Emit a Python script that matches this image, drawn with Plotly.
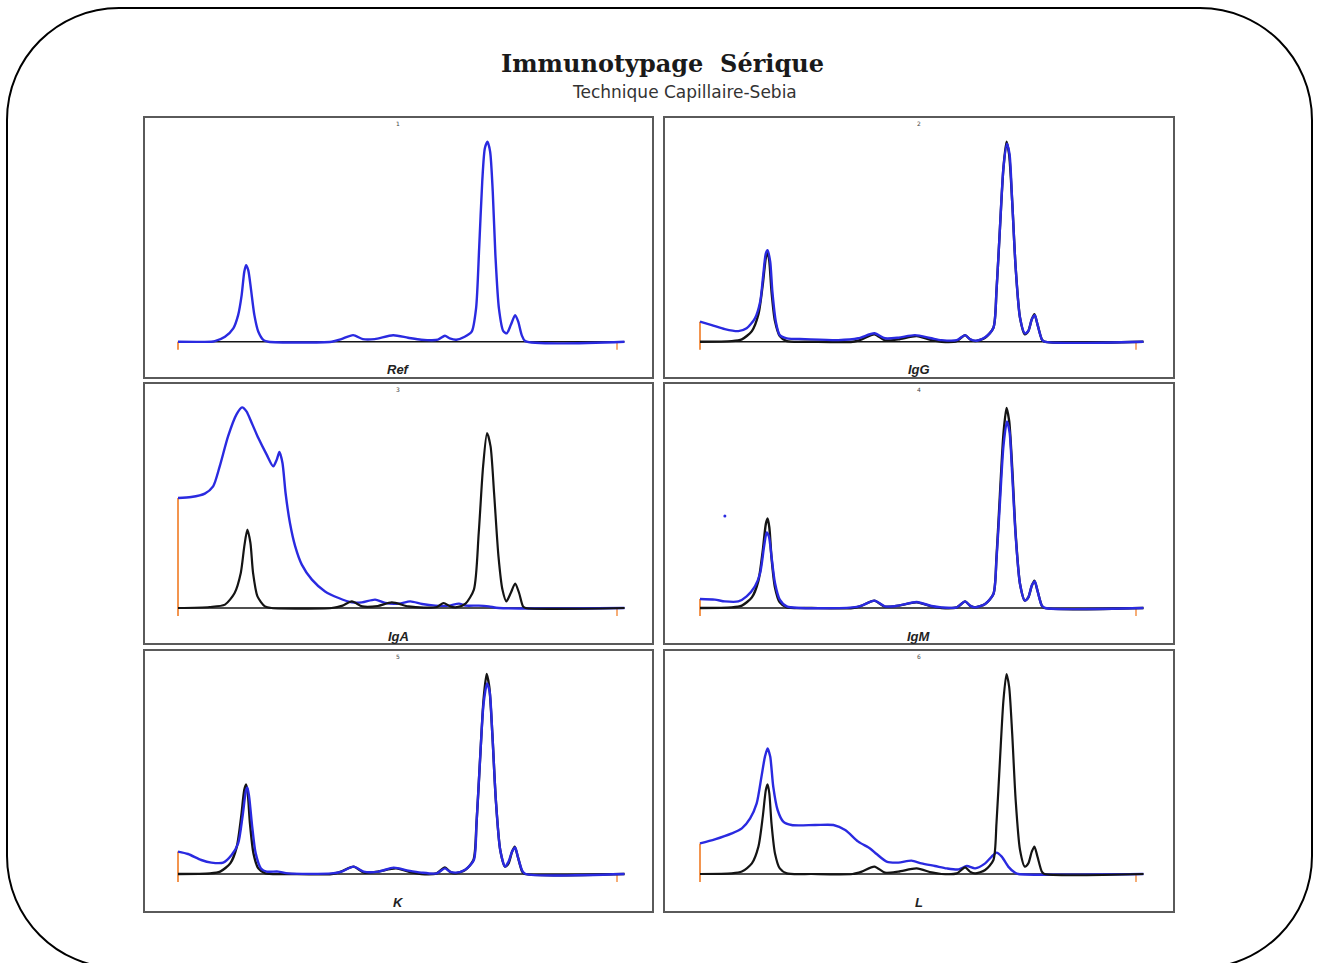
import plotly.graph_objects as go

W, H = 1319, 963

# ---------------- data (x: 0 = left marker, 100 = right marker; y: 0 = baseline) -------------
panel_names = ["Ref", "IgG", "IgA", "IgM", "K", "L"]
panel_numbers = ["1", "2", "3", "4", "5", "6"]

# Ref panel (blue profile)
ref_x = [0, 7.6, 8.4, 10.7, 12.6, 13.7, 14.5, 15.1, 15.5, 16.0, 16.6, 17.4, 18.3, 19.5, 20.6,
         35.0, 37.2, 39.9, 42.1, 44.8, 49.0, 52.4, 55.4, 59.2, 60.8, 61.9, 63.4, 65.3, 66.9,
         67.9, 68.6, 69.3, 69.9, 70.5, 71.1, 71.7, 72.3, 73.1, 74.1, 74.9, 75.8, 76.8, 77.5,
         78.3, 79.1, 101.7]
ref_y = [0, 0, 0.3, 2.5, 6.7, 13.3, 23.3, 35.0, 38.3, 35.8, 26.7, 13.3, 5.0, 0.8, 0,
         0, 1.3, 3.3, 1.3, 1.3, 3.2, 2.0, 1.0, 1.0, 3.0, 1.7, 1.0, 2.5, 5.0,
         16.7, 46.7, 80.0, 96.7, 100.0, 95.0, 75.0, 43.3, 16.7, 5.3, 4.2, 8.3, 13.3, 10.0,
         3.3, 0.3, 0]

# black reference profile used in IgG, IgM, K, L panels
black_x = [0, 7.3, 9.6, 11.9, 13.4, 14.4, 15.1, 15.5, 15.9, 16.4, 17.2, 18.3, 19.9, 25.6,
           35.0, 37.1, 40.0, 42.4, 45.5, 49.7, 53.1, 55.4, 58.9, 60.8, 61.9, 63.1, 65.4,
           67.3, 68.0, 68.8, 69.6, 70.3, 70.9, 71.6, 72.4, 73.4, 74.5, 75.3, 76.1, 76.7,
           77.4, 78.4, 79.0, 101.7]
black_y = [0, 0.3, 1.2, 5.3, 13.7, 28.7, 42.0, 44.8, 40.3, 25.3, 10.3, 2.8, 0.3, 0,
           0, 1.2, 3.7, 0.7, 1.2, 2.8, 0.8, 0, 0.3, 3.3, 1.2, 0.3, 2.0,
           7.0, 25.3, 57.0, 87.0, 100.0, 93.7, 70.3, 37.0, 12.0, 3.7, 5.3, 11.2, 13.7,
           8.7, 1.2, 0, 0]

# IgA panel
iga_black_x = [0, 7.2, 10.7, 12.9, 14.3, 15.1, 15.8, 16.5, 17.1, 18.1, 19.8, 21.3,
               35.0, 37.5, 39.6, 42.0, 45.5, 48.7, 52.5, 56.0, 59.0, 60.5, 62.0, 63.5, 65.5,
               67.4, 68.5, 69.5, 70.4, 71.2, 72.0, 73.0, 73.9, 74.8, 75.8, 76.8, 77.7,
               78.6, 79.2, 101.7]
iga_black_y = [0, 0.5, 1.7, 7.5, 17.5, 30.8, 39.2, 32.5, 17.5, 5.8, 0.8, 0,
               0, 1.2, 3.3, 0.8, 1.0, 2.8, 0.8, 0.2, 0.5, 2.5, 0.8, 0.4, 2.2,
               9.2, 37.5, 70.8, 87.5, 80.8, 57.5, 25.8, 9.2, 3.3, 7.5, 12.2, 7.5,
               0.8, 0, 0]
iga_blue_x = [0, 3.0, 6.1, 8.0, 9.5, 11.4, 13.3, 14.6, 15.6, 16.8, 18.3, 20.2, 21.7, 22.5,
              23.1, 23.8, 24.5, 25.5, 26.7, 28.2, 30.5, 33.5, 36.6, 39.6, 41.9, 44.9, 47.2,
              50.3, 52.9, 55.6, 58.6, 61.7, 64.0, 65.5, 68.5, 70.8, 73.1, 101.7]
iga_blue_y = [55.0, 55.5, 57.2, 60.8, 70.8, 85.8, 96.7, 100.3, 98.3, 92.5, 85.0, 76.7, 70.8, 74.2,
              78.0, 72.5, 57.5, 42.5, 30.8, 21.7, 14.2, 8.3, 5.0, 2.8, 2.8, 4.2, 2.5,
              2.2, 3.3, 2.0, 1.2, 1.2, 2.2, 1.2, 1.2, 0.8, 0, 0]

# IgG panel (blue)
igg_blue_x = [0, 2.7, 5.7, 8.8, 10.7, 12.6, 13.8, 14.5, 15.1, 15.5, 16.1, 16.6, 17.4, 18.3,
              19.9, 24.1, 31.7, 36.3, 40.0, 42.4, 45.5, 49.3, 53.1, 55.4, 58.9, 60.8, 61.9,
              63.5, 65.4, 67.3, 68.0, 68.8, 69.6, 70.4, 71.0, 71.6, 72.4, 73.4, 74.5, 75.3,
              76.1, 76.8, 77.4, 78.4, 79.0, 101.7]
igg_blue_y = [10.0, 8.3, 6.3, 5.3, 6.7, 11.7, 20.0, 33.3, 44.2, 45.8, 40.0, 25.0, 10.0, 3.3,
              1.7, 1.3, 0.8, 1.7, 4.2, 1.7, 2.0, 3.3, 1.7, 0.8, 0.8, 3.3, 1.3,
              0.5, 2.2, 7.0, 25.3, 57.0, 87.0, 99.0, 93.7, 70.3, 37.0, 12.0, 4.2, 5.3,
              11.2, 13.3, 8.7, 1.2, 0, 0]

# IgM panel (blue)
igm_blue_x = [0, 3.4, 5.7, 8.8, 10.7, 12.6, 13.8, 14.7, 15.3, 15.8, 16.4, 17.2, 18.3, 19.9,
              35.0, 37.1, 40.0, 42.4, 45.5, 49.7, 53.1, 55.4, 58.9, 60.8, 61.9, 63.1, 65.4,
              67.3, 68.0, 68.8, 69.6, 70.4, 71.0, 71.6, 72.4, 73.4, 74.5, 75.3, 76.1, 76.8,
              77.4, 78.4, 79.2, 101.7]
igm_blue_y = [4.5, 4.2, 3.3, 3.3, 5.8, 10.8, 17.5, 30.8, 37.8, 35.8, 25.8, 12.5, 4.2, 0.8,
              0.3, 1.2, 3.7, 0.8, 1.2, 3.0, 1.0, 0.3, 0.3, 3.3, 1.2, 0.3, 2.0,
              7.0, 24.0, 53.0, 81.0, 93.3, 88.0, 67.0, 36.0, 12.0, 3.7, 5.3, 11.2, 13.3,
              8.7, 1.2, 0, 0]
igm_dot_x = [5.7]
igm_dot_y = [46.0]

# K panel (blue)
k_blue_x = [0, 2.3, 5.3, 7.6, 10.3, 12.2, 13.7, 14.7, 15.5, 15.8, 16.2, 16.9, 17.7, 18.9,
            20.2, 22.8, 25.1, 35.0, 37.3, 40.0, 42.3, 45.7, 49.1, 52.5, 55.4, 58.9, 60.8,
            61.9, 63.4, 65.5, 67.4, 68.0, 68.8, 69.6, 70.4, 71.0, 71.6, 72.4, 73.4, 74.5,
            75.3, 76.1, 76.8, 77.4, 78.4, 79.2, 101.7]
k_blue_y = [11.2, 10.0, 7.0, 5.7, 5.7, 9.5, 15.3, 28.7, 42.0, 43.3, 38.7, 23.7, 10.3, 2.8,
            1.2, 1.2, 0.3, 0.3, 1.2, 3.7, 1.2, 1.2, 3.2, 1.7, 0.7, 0.3, 2.8,
            1.2, 0.7, 2.3, 7.0, 25.3, 57.0, 85.0, 95.3, 91.0, 70.3, 37.0, 12.0, 3.7,
            6.2, 11.2, 13.3, 8.7, 1.7, 0, 0]

# L panel (blue)
l_blue_x = [0, 3.4, 7.3, 9.6, 11.5, 13.0, 14.1, 14.9, 15.5, 16.1, 16.8, 17.8, 19.1, 21.0,
            26.4, 30.6, 33.3, 36.3, 39.0, 40.5, 42.8, 45.5, 48.5, 50.8, 53.9, 56.6, 59.3,
            61.2, 63.1, 65.4, 66.9, 68.0, 69.2, 70.7, 72.2, 73.0, 101.7]
l_blue_y = [15.3, 17.3, 20.3, 22.8, 27.8, 35.3, 48.7, 58.7, 62.8, 58.7, 43.7, 32.0, 26.2, 24.5,
            24.5, 24.5, 22.0, 16.2, 12.8, 10.0, 6.2, 5.7, 6.7, 5.3, 4.0, 2.8, 2.3,
            4.0, 2.8, 5.3, 8.7, 10.7, 8.7, 3.7, 0.7, 0, 0]

baseline_x = [0, 101.7]
baseline_y = [0, 0]
marker_positions = [0, 100]
marker_depth = -4.0

panels = [
    dict(black=None, blue=(ref_x, ref_y)),
    dict(black=(black_x, black_y), blue=(igg_blue_x, igg_blue_y)),
    dict(black=(iga_black_x, iga_black_y), blue=(iga_blue_x, iga_blue_y)),
    dict(black=(black_x, black_y), blue=(igm_blue_x, igm_blue_y)),
    dict(black=(black_x, black_y), blue=(k_blue_x, k_blue_y)),
    dict(black=(black_x, black_y), blue=(l_blue_x, l_blue_y)),
]

# ---------------- layout geometry (pixels) ----------------
cols_px = [(145, 652, 178, 4.39), (665, 1173, 700, 4.36)]  # left, right, x0px, px/unit
rows_px = [(118, 377, 341.7), (384, 643, 608), (651, 911, 874)]  # top, bottom, baseline
YS = 2.0  # px per unit

BLUE = "#2a2ae0"
BLACK = "#141414"
ORANGE = "#f28a3c"

fig = go.Figure()
layout = dict(
    width=W, height=H, margin=dict(l=0, r=0, t=0, b=0),
    paper_bgcolor="white", plot_bgcolor="white", showlegend=False,
)
annotations = []

for i in range(6):
    r, c = divmod(i, 2)
    left, right, x0, xs = cols_px[c]
    top, bottom, base = rows_px[r]
    ax = "" if i == 0 else str(i + 1)
    xname, yname = "x" + ax, "y" + ax
    axis_common = dict(showgrid=False, zeroline=False, showticklabels=False, ticks="",
                       showline=True, mirror=True, linecolor="#5a5a5a", linewidth=2,
                       fixedrange=True)
    layout["xaxis" + ax] = dict(axis_common, domain=[left / W, right / W],
                                range=[(left - x0) / xs, (right - x0) / xs], anchor=yname)
    layout["yaxis" + ax] = dict(axis_common, domain=[1 - bottom / H, 1 - top / H],
                                range=[-(bottom - base) / YS, (base - top) / YS], anchor=xname)

    p = panels[i]
    fig.add_trace(go.Scatter(x=baseline_x, y=baseline_y, mode="lines",
                             line=dict(color=BLACK, width=1.6), xaxis=xname, yaxis=yname,
                             hoverinfo="skip"))
    bx, by = p["blue"]
    fig.add_trace(go.Scatter(x=[marker_positions[0], marker_positions[0]], y=[marker_depth, by[0]],
                             mode="lines", line=dict(color=ORANGE, width=1.8),
                             xaxis=xname, yaxis=yname, hoverinfo="skip"))
    fig.add_trace(go.Scatter(x=[marker_positions[1], marker_positions[1]], y=[marker_depth, 0],
                             mode="lines", line=dict(color=ORANGE, width=1.4),
                             xaxis=xname, yaxis=yname, hoverinfo="skip"))
    black_on_top = i in (2, 5)
    if p["black"] is not None and not black_on_top:
        kx, ky = p["black"]
        fig.add_trace(go.Scatter(x=kx, y=ky, mode="lines",
                                 line=dict(color=BLACK, width=2.4, shape="spline", smoothing=0.7),
                                 xaxis=xname, yaxis=yname))
    fig.add_trace(go.Scatter(x=bx, y=by, mode="lines",
                             line=dict(color=BLUE, width=2.4, shape="spline", smoothing=0.7),
                             xaxis=xname, yaxis=yname))
    if p["black"] is not None and black_on_top:
        kx, ky = p["black"]
        fig.add_trace(go.Scatter(x=kx, y=ky, mode="lines",
                                 line=dict(color=BLACK, width=2.2, shape="spline", smoothing=0.7),
                                 xaxis=xname, yaxis=yname))
    if i == 3:
        fig.add_trace(go.Scatter(x=igm_dot_x, y=igm_dot_y, mode="markers",
                                 marker=dict(color=BLUE, size=3), xaxis=xname, yaxis=yname))

    cx = (left + right) / 2 / W
    annotations.append(dict(text="<b><i>" + panel_names[i] + "</i></b>", x=cx,
                            y=1 - (base + 28) / H,
                            xref="paper", yref="paper", showarrow=False,
                            xanchor="center", yanchor="middle",
                            font=dict(family="Liberation Sans, Arial", size=13, color="#222")))
    annotations.append(dict(text=panel_numbers[i], x=cx, y=1 - (top + 5) / H,
                            xref="paper", yref="paper", showarrow=False,
                            xanchor="center", yanchor="middle",
                            font=dict(family="DejaVu Sans", size=6, color="#444")))

annotations.append(dict(text="<b>Immunotypage  Sérique</b>", x=663 / W, y=1 - 63 / H,
                        xref="paper", yref="paper", showarrow=False,
                        xanchor="center", yanchor="middle",
                        font=dict(family="DejaVu Serif", size=24, color="#1a1a1a")))
annotations.append(dict(text="Technique Capillaire-Sebia", x=684 / W, y=1 - 92 / H,
                        xref="paper", yref="paper", showarrow=False,
                        xanchor="center", yanchor="middle",
                        font=dict(family="DejaVu Sans", size=17, color="#333")))
layout["annotations"] = annotations

# rounded outer frame (pixel coords -> paper)
L_, T_, R_, B_, rad = 7, 8, 1312, 968, 112
def P(x, y):
    return f"{x / W:.5f},{1 - y / H:.5f}"
k = 0.5523 * rad
path = (f"M {P(L_ + rad, T_)} L {P(R_ - rad, T_)} "
        f"C {P(R_ - rad + k, T_)} {P(R_, T_ + rad - k)} {P(R_, T_ + rad)} "
        f"L {P(R_, B_ - rad)} "
        f"C {P(R_, B_ - rad + k)} {P(R_ - rad + k, B_)} {P(R_ - rad, B_)} "
        f"L {P(L_ + rad, B_)} "
        f"C {P(L_ + rad - k, B_)} {P(L_, B_ - rad + k)} {P(L_, B_ - rad)} "
        f"L {P(L_, T_ + rad)} "
        f"C {P(L_, T_ + rad - k)} {P(L_ + rad - k, T_)} {P(L_ + rad, T_)} Z")
layout["shapes"] = [dict(type="path", path=path, xref="paper", yref="paper",
                         line=dict(color="black", width=2), layer="above")]

fig.update_layout(**layout)
fig.write_html("out.html")
